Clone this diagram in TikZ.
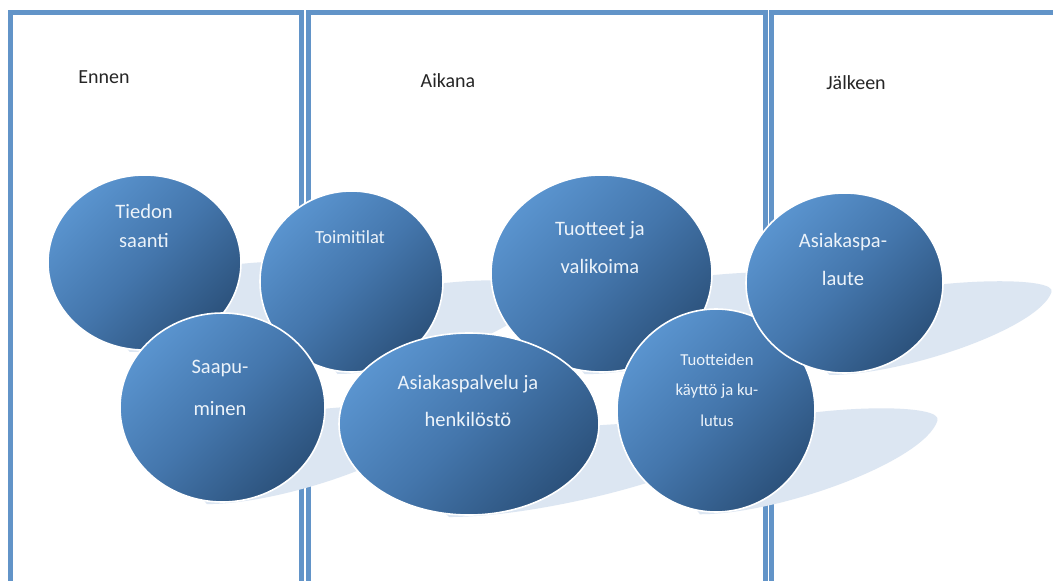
\documentclass[tikz,border=0pt]{standalone}
\usepackage{fontspec}
\setmainfont{Carlito}
\usetikzlibrary{shapes.geometric}
\definecolor{framec}{RGB}{98,148,200}
\definecolor{bubL}{RGB}{90,148,207}
\definecolor{bubM}{RGB}{68,118,172}
\definecolor{bubD}{RGB}{44,82,124}
\definecolor{btxt}{RGB}{236,243,250}
\definecolor{ttl}{RGB}{38,38,38}
\definecolor{shadc}{RGB}{220,230,242}
\newcommand\bubshadow[4]{%
  \begin{scope}[shift={(#1,#2)}, xscale=#3, yscale=#4]
    \fill[shad] (-15,2) .. controls (60,2) and (195,-45) .. (207,-81)
      .. controls (212,-96) and (110,-95) .. (40,-80)
      .. controls (0,-70) and (-30,-10) .. cycle;
  \end{scope}}
\begin{document}
\begin{tikzpicture}[x=1pt,y=-1pt,
  bubble/.style={ellipse, draw=white, line width=1.6pt, inner sep=0pt,
    top color=bubL, bottom color=bubD, middle color=bubM, shading angle=45},
  btext/.style={anchor=base, text=btxt, inner sep=0pt, font=\fontsize{20.5}{24}\selectfont},
  ttext/.style={anchor=base, text=ttl, inner sep=0pt, font=\fontsize{20}{24}\selectfont},
  panel/.style={draw=framec, line width=5pt},
  shad/.style={fill=shadc}]
\useasboundingbox (0,0) rectangle (1053,581);
\clip (0,0) rectangle (1053,581);
\fill[white] (0,0) rectangle (1053,581);
% panels
\draw[panel] (10.5,12.5) rectangle (301.5,620);
\draw[panel] (308,12.5) rectangle (765,620);
\draw[panel] (771.5,12.5) rectangle (1090,620);
% titles
\node[ttext] (ennen) at (104,83) {Ennen};
\node[ttext] (aikana) at (448,87) {Aikana};
\node[ttext] (jalkeen) at (856,89) {Jälkeen};
% shadows
\bubshadow{144.5}{350}{0.98}{0.97}
\bubshadow{351.5}{372}{0.93}{1.0}
\bubshadow{601.5}{372}{1.12}{1.09}
\bubshadow{222.5}{502}{1.04}{1.05}
\bubshadow{469}{515}{1.32}{1.01}
\bubshadow{716}{512}{1.07}{1.13}
\bubshadow{844.5}{373}{1.0}{1.0}
% bubbles
\node[bubble, minimum width=193pt, minimum height=175pt] (tiedon) at (144.5,262.5) {};
\node[bubble, minimum width=183pt, minimum height=181pt] (toimi) at (351.5,281.5) {};
\node[bubble, minimum width=221pt, minimum height=197pt] (tuotteet) at (601.5,273.5) {};
\node[bubble, minimum width=205pt, minimum height=189pt] (saapu) at (222.5,407.5) {};
\node[bubble, minimum width=260pt, minimum height=182pt] (asiak) at (469,424) {};
\node[bubble, minimum width=198pt, minimum height=203pt] (kaytto) at (716,410.5) {};
\node[bubble, minimum width=197pt, minimum height=180pt] (palaute) at (844.5,283) {};
% bubble texts
\node[btext] (tiedonA) at (144,218) {Tiedon};
\node[btext] (tiedonB) at (144,247) {saanti};
\node[btext, font=\fontsize{18.5}{22}\selectfont] (toimiA) at (350,243) {Toimitilat};
\node[btext] (tuotteetA) at (600,235) {Tuotteet ja};
\node[btext] (tuotteetB) at (600,273) {valikoima};
\node[btext] (saapuA) at (220,373) {Saapu-};
\node[btext] (saapuB) at (220,415) {minen};
\node[btext] (asiakA) at (468,389) {Asiakaspalvelu ja};
\node[btext] (asiakB) at (468,426) {henkilöstö};
\node[btext, font=\fontsize{16.7}{20}\selectfont] (kayttoA) at (717,365) {Tuotteiden};
\node[btext, font=\fontsize{16.7}{20}\selectfont] (kayttoB) at (717,395) {käyttö ja ku-};
\node[btext, font=\fontsize{16.7}{20}\selectfont] (kayttoC) at (717,426) {lutus};
\node[btext] (palauteA) at (843,247) {Asiakaspa-};
\node[btext] (palauteB) at (843,285) {laute};
\end{tikzpicture}
\end{document}
